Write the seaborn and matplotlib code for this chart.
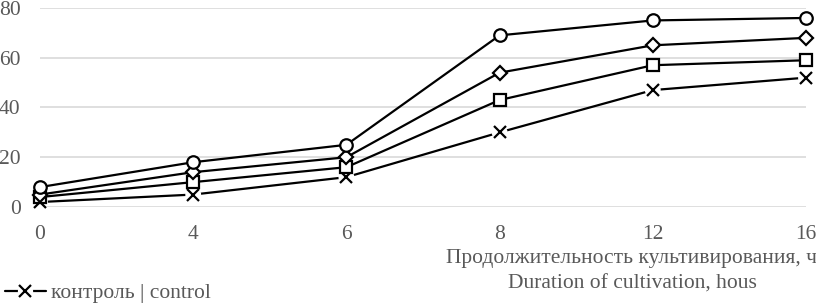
import pandas as pd
import matplotlib.pyplot as plt
import seaborn as sns
from matplotlib.lines import Line2D

# hours of cultivation (categorical, evenly spaced on the chart)
hours = ["0", "4", "6", "8", "12", "16"]

control = [2, 5, 12, 30, 47, 52]
series_sq = [4, 10, 16, 43, 57, 59]
series_dm = [5, 14, 20, 54, 65, 68]
series_ci = [8, 18, 25, 69, 75, 76]

names = ["контроль | control", "s2", "s3", "s4"]
marks = {"контроль | control": "x", "s2": "s", "s3": "D", "s4": "o"}
msize = {"контроль | control": 9, "s2": 8.5, "s3": 7, "s4": 9}

rows = []
for name, vals in zip(names, [control, series_sq, series_dm, series_ci]):
    for i, (h, v) in enumerate(zip(hours, vals)):
        rows.append({"pos": i, "hour": h, "value": v, "series": name})
df = pd.DataFrame(rows)

sns.set_style("white")
plt.rcParams["font.family"] = ["Liberation Serif", "DejaVu Serif"]

fig = plt.figure(figsize=(8.16, 3.06), dpi=100)
ax = fig.add_axes([40 / 816, 1 - 207 / 306, 766 / 816, 199 / 306])

for name in names:
    sub = df[df["series"] == name]
    sns.lineplot(data=sub, x="pos", y="value", color="black",
                 linewidth=1.6, ax=ax, zorder=3, legend=False)
    if marks[name] == "x":
        # white patch behind the cross, like the gap in the original
        sns.scatterplot(data=sub, x="pos", y="value", marker="o", s=130,
                        color="white", edgecolor="none", ax=ax, zorder=4,
                        legend=False, clip_on=False)
    sns.lineplot(data=sub, x="pos", y="value", color="black",
                 marker=marks[name], linestyle="none", markersize=msize[name],
                 markeredgewidth=1.6, markerfacecolor="white",
                 markeredgecolor="black", ax=ax, zorder=5, legend=False)
for ln in ax.lines:
    ln.set_clip_on(False)

ax.set_xlim(0, len(hours) - 1)
ax.set_ylim(0, 80)
ax.set_xticks(range(len(hours)))
ax.set_xticklabels(hours)
ax.set_yticks([0, 20, 40, 60, 80])
ax.grid(axis="y", color="#d9d9d9", linewidth=1.2)
ax.grid(axis="x", visible=False)
for s in ax.spines.values():
    s.set_visible(False)
ax.tick_params(axis="both", length=0, labelsize=15.5, labelcolor="#595959")
ax.xaxis.set_tick_params(pad=13)
ax.yaxis.set_tick_params(pad=14)
ax.set_xlabel("")
ax.set_ylabel("")

fig.text(632 / 816, 1 - 259 / 306, "Продолжительность культивирования, ч",
         ha="center", va="center", fontsize=15.5, color="#595959")
fig.text(632 / 816, 1 - 284 / 306, "Duration of cultivation, hous",
         ha="center", va="center", fontsize=15.5, color="#595959")

handle = (Line2D([], [], color="black", linewidth=1.6),
          Line2D([], [], color="white", marker="o", linestyle="none",
                 markersize=11, markeredgewidth=0),
          Line2D([], [], color="black", marker="x", linestyle="none",
                 markersize=9, markeredgewidth=1.6))
fig.legend([handle], ["контроль | control"], loc="lower left",
           bbox_to_anchor=(-0.018, -0.055), frameon=False, fontsize=15.5,
           handlelength=1.9, handletextpad=0.25, labelcolor="#595959")

fig.savefig("out.png", dpi=100)
